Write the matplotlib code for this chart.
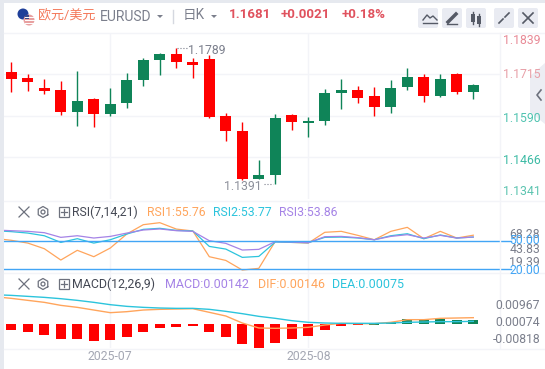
"""EURUSD daily candles with RSI and MACD panels, widget style header."""
import numpy as np
import matplotlib
matplotlib.use("Agg")
import matplotlib.pyplot as plt
from matplotlib.patches import Circle, FancyBboxPatch, Polygon, Rectangle

plt.rcParams['font.family'] = ['Roboto', 'Noto Sans CJK SC', 'DejaVu Sans']

opens = [1.1722, 1.1704, 1.1674, 1.1668, 1.1602, 1.1641, 1.1596, 1.1629, 1.1698, 1.1758,
         1.1776, 1.1752, 1.1761, 1.1590, 1.1545, 1.1401, 1.1413, 1.1593, 1.1569, 1.1575,
         1.1659, 1.1668, 1.1650, 1.1617, 1.1677, 1.1707, 1.1650, 1.1716, 1.1662]
closes = [1.1701, 1.1692, 1.1665, 1.1602, 1.1635, 1.1596, 1.1626, 1.1698, 1.1758, 1.1776,
          1.1752, 1.1743, 1.1587, 1.1545, 1.1401, 1.1413, 1.1584, 1.1572, 1.1575, 1.1659,
          1.1668, 1.1644, 1.1617, 1.1674, 1.1707, 1.1650, 1.1701, 1.1662, 1.1683]
highs = [1.1752, 1.1716, 1.1701, 1.1695, 1.1725, 1.1644, 1.1674, 1.1719, 1.1764, 1.1779,
         1.1794, 1.1764, 1.1773, 1.1599, 1.1572, 1.1458, 1.1596, 1.1596, 1.1587, 1.1671,
         1.1701, 1.1680, 1.1677, 1.1698, 1.1734, 1.1716, 1.1716, 1.1719, 1.1686]
lows = [1.1662, 1.1665, 1.1656, 1.1593, 1.1560, 1.1557, 1.1590, 1.1614, 1.1680, 1.1713,
        1.1734, 1.1704, 1.1584, 1.1515, 1.1398, 1.1401, 1.1386, 1.1548, 1.1527, 1.1563,
        1.1611, 1.1629, 1.1590, 1.1599, 1.1668, 1.1632, 1.1647, 1.1656, 1.1641]
price_ticks = [1.1839, 1.1715, 1.1590, 1.1466, 1.1341]

# first value of each line is the bar just off the left edge
rsi1 = [52.4, 50.4, 47.5, 41.6, 29.7, 39.9, 33.2, 42.3, 57.0, 66.8, 68.9, 62.2, 60.2, 33.2, 29.3,
        19.2, 21.0, 49.3, 48.2, 47.5, 58.8, 59.8, 55.6, 51.0, 59.8, 64.0, 52.1, 59.8, 52.8, 55.76]
rsi2 = [60.5, 59.5, 58.0, 55.2, 48.2, 52.1, 47.5, 51.0, 57.0, 61.9, 63.0, 60.8, 60.2, 44.0, 41.2,
        32.5, 33.5, 48.6, 48.2, 47.9, 53.5, 53.8, 52.8, 51.0, 55.2, 57.3, 52.1, 56.0, 52.8, 53.77]
rsi3 = [61.2, 60.5, 59.8, 58.4, 53.5, 55.2, 52.8, 54.5, 58.0, 61.2, 62.3, 60.5, 59.8, 50.0, 47.2,
        40.2, 40.9, 49.0, 48.6, 47.9, 54.2, 54.5, 53.2, 51.0, 54.5, 56.3, 52.8, 55.6, 52.8, 53.86]

macd_bars = [-0.00301, -0.00425, -0.00584, -0.00797, -0.00797, -0.00903, -0.00850, -0.00690,
             -0.00425, -0.00212, -0.00159, -0.00106, -0.00425, -0.00690, -0.01062, -0.01257,
             -0.01009, -0.00797, -0.00637, -0.00319, -0.00106, -0.00053, -0.00053, 0.00106,
             0.00266, 0.00212, 0.00266, 0.00212, 0.00212]
dif = [0.01451, 0.01363, 0.01257, 0.01151, 0.00991, 0.00885, 0.00743, 0.00602, 0.00655, 0.00743,
       0.00779, 0.00797, 0.00814, 0.00620, 0.00425, 0.00053, -0.00212, -0.00230, -0.00212, -0.00177,
       -0.00053, 0.00035, 0.00018, 0.00018, 0.00089, 0.00230, 0.00230, 0.00301, 0.00319, 0.00336]
dea = [0.01558, 0.01522, 0.01469, 0.01416, 0.01345, 0.01257, 0.01151, 0.01027, 0.00938, 0.00885,
       0.00850, 0.00832, 0.00832, 0.00779, 0.00673, 0.00549, 0.00407, 0.00301, 0.00177, 0.00089,
       0.00053, 0.00035, 0.00035, 0.00035, 0.00053, 0.00089, 0.00106, 0.00124, 0.00124, 0.00142]
macd_ticks = [0.00967, 0.00074, -0.00818]
month_labels = ["2025-07", "2025-08"]
month_index = [6, 18]

W, H = 545, 369
RED = "#ff0000"
GREEN = "#0f8458"
GRID = "#f3f4f8"
GRAY = "#7b7f8c"
ORANGE = "#ffa55c"
CYAN = "#2cc4dc"
PURPLE = "#a583e6"
BLUE = "#42a5f5"
HEAD_RED = "#e0525e"


def panel(top, bottom, left=4, right=499.5):
    ax = fig.add_axes([left / W, 1 - bottom / H, (right - left) / W, (bottom - top) / H])
    ax.set_xlim((left - 11.3) / 16.5, (right - 11.3) / 16.5)
    for s in ax.spines.values():
        s.set_visible(False)
    ax.set_xticks([])
    ax.set_yticks([])
    ax.patch.set_alpha(0)
    for m in month_index:
        ax.axvline(m, color=GRID, lw=1, zorder=0)
    return ax


fig = plt.figure(figsize=(W / 100, H / 100), dpi=100, facecolor="white")
idx = np.arange(len(opens))
line_x = np.arange(-1, len(opens))

# ---- candles ----
ax = panel(33, 199)
ax.set_ylim(price_ticks[-1], price_ticks[0])
for p in price_ticks[1:-1]:
    ax.axhline(p, color=GRID, lw=1, zorder=0)
o, c = np.array(opens), np.array(closes)
cols = [GREEN if b > a else RED for a, b in zip(o, c)]
ax.vlines(idx, lows, highs, colors=cols, lw=1, zorder=2)
ax.bar(idx, np.abs(c - o), bottom=np.minimum(o, c), width=0.66, color=cols, zorder=3)

# ---- RSI ----
ax2 = panel(202, 273)
ax2.set_ylim(16.1, 90.6)
ax2.plot(line_x, rsi1, color=ORANGE, lw=0.9)
ax2.plot(line_x, rsi2, color=CYAN, lw=0.9)
ax2.plot(line_x, rsi3, color=PURPLE, lw=0.9)
for lev in (50, 20):
    ax2.axhline(lev, xmax=1.023, color=BLUE, lw=1, clip_on=False)

# ---- MACD ----
ax3 = panel(274, 348)
ax3.set_ylim(-0.01276, 0.02658)
bar_cols = [RED if i < 22 else GREEN for i in idx]
ax3.bar(idx, macd_bars, width=0.6, color=bar_cols, zorder=2)
ax3.plot(line_x, dif, color=ORANGE, lw=1, zorder=3)
ax3.plot(line_x, dea, color=CYAN, lw=1, zorder=3)

# ---- chrome, drawn in pixel coordinates ----
top = fig.add_axes([0, 0, 1, 1], zorder=10)
top.set_xlim(0, W)
top.set_ylim(H, 0)
top.axis("off")
top.patch.set_alpha(0)


def txt(x, y, s, color=GRAY, size=8.6, ha="left", **kw):
    return top.text(x, y, s, color=color, fontsize=size, ha=ha, va="center", **kw)


def hline(y, x0=4, x1=W, color=GRID):
    top.plot([x0, x1], [y, y], color=color, lw=1)


top.add_patch(Rectangle((0, 0), W, 3, color="#e6e9ef", lw=0))
top.add_patch(Rectangle((0, 0), 3.5, H, color="#e6e9ef", lw=0))
hline(32.5)
hline(201)
hline(273)
hline(348.5)
top.plot([499.7, 499.7], [33, 348], color=GRID, lw=1)

# flags
top.add_patch(Circle((23, 14), 5.5, color="#1f3f99", lw=0))
top.add_patch(Circle((29, 20), 5.5, color="#e8a0a0", lw=0))
for yy in (16.5, 19.5, 22.5):
    top.plot([24.5, 33.5], [yy, yy], color="white", lw=0.7)
top.add_patch(Rectangle((24.5, 15), 4, 3.5, color="#3b4a8c", lw=0))

txt(38, 15, "欧元/美元", color="#f4795b", size=9.4)
txt(100, 17, "EURUSD", color=GRAY, size=10)
top.add_patch(Polygon([[157, 15], [163, 15], [160, 18]], color=GRAY, lw=0))
top.plot([173, 173], [10, 23], color="#d5d8e0", lw=1)
txt(183, 15, "日K", color=GRAY, size=9.8)
top.add_patch(Polygon([[211, 15], [217, 15], [214, 18]], color=GRAY, lw=0))
txt(229, 15, "1.1681", color=HEAD_RED, size=9.6, fontweight="bold")
txt(281, 15, "+0.0021", color=HEAD_RED, size=9.6, fontweight="bold")
txt(342, 15, "+0.18%", color=HEAD_RED, size=9.6, fontweight="bold")

# toolbar buttons
for bx in (418, 442, 466, 494, 518):
    top.add_patch(FancyBboxPatch((bx + 2, 10), 16, 16, boxstyle="round,pad=2",
                                 color="#e9ebf2", lw=0))
top.plot([423, 427, 430, 433, 437], [20, 15, 18, 16, 20], color="#555a66", lw=1)
top.plot([423, 437], [23, 23], color="#555a66", lw=1)
top.plot([448, 456], [22, 14], color="#555a66", lw=2.5)
top.plot([447, 457], [24, 24], color="#555a66", lw=1)
for cx, y0, y1 in ((473, 14, 22), (479, 16, 24)):
    top.plot([cx, cx], [y0 - 2, y1 + 2], color="#555a66", lw=1)
    top.add_patch(Rectangle((cx - 2, y0), 4, y1 - y0, color="#555a66", lw=0))
top.plot([499, 503], [23, 19], color="#555a66", lw=1.2)
top.plot([505, 509], [17, 13], color="#555a66", lw=1.2)
top.plot([523, 533], [13, 23], color="#555a66", lw=1.2)
top.plot([523, 533], [23, 13], color="#555a66", lw=1.2)

# collapse tab on the right edge
top.add_patch(Polygon([[545, 63], [530, 76], [530, 112], [545, 124]], color="#ecedf3", lw=0))
top.plot([541, 537, 541], [90, 95, 100], color="#6d717d", lw=1.2)

# price axis labels
price_cols = ["#e88a96", "#e8a0a8", "#4fc3b0", "#3dbba5", "#5cc4b0"]
for p, y, col in zip(price_ticks, [40.7, 75, 118, 160, 191.7], price_cols):
    txt(541, y, f"{p:.4f}", color=col, ha="right", size=8.8)

# high / low markers
txt(188, 50, "1.1789", size=8.8)
top.plot([177, 187], [47.5, 47.5], color=GRAY, lw=0.8, ls=":")
txt(224, 186, "1.1391", color="#8d909b", size=8.8)
top.plot([264, 273], [184, 184], color=GRAY, lw=0.8, ls=":")


def icons(y):
    top.plot([19, 29], [y - 5, y + 5], color="#6d717d", lw=0.9)
    top.plot([19, 29], [y + 5, y - 5], color="#6d717d", lw=0.9)
    ang = np.deg2rad(np.arange(30, 391, 60))
    top.plot(43 + 5.5 * np.cos(ang), y + 5.5 * np.sin(ang), color="#6d717d", lw=0.9)
    top.add_patch(Circle((43, y), 2, fill=False, ec="#6d717d", lw=0.9))
    top.add_patch(Rectangle((59, y - 5), 10, 10, fill=False, ec="#6d717d", lw=0.9))
    top.plot([61, 67], [y, y], color="#6d717d", lw=0.9)
    top.plot([64, 64], [y - 3, y + 3], color="#6d717d", lw=0.9)


icons(212)
txt(72, 212, "RSI(7,14,21)", color="#444854", size=8.8)
txt(147, 212, "RSI1:55.76", color=ORANGE, size=8.8)
txt(213, 212, "RSI2:53.77", color=CYAN, size=8.8)
txt(279, 212, "RSI3:53.86", color=PURPLE, size=8.8)

icons(284)
txt(72, 284, "MACD(12,26,9)", color="#444854", size=8.9)
txt(165, 284, "MACD:0.00142", color=PURPLE, size=9)
txt(258, 284, "DIF:0.00146", color=ORANGE, size=9)
txt(332, 284, "DEA:0.00075", color=CYAN, size=9)

# RSI axis labels overlap in the widget, the lowest one is cut by the panel edge
for s, y in (("68.28", 234), ("43.83", 249.7), ("19.39", 263)):
    txt(540, y, s, ha="right", size=8.8)
for s, y in (("50.00", 241), ("20.00", 270)):
    t = txt(540, y, s, color=BLUE, ha="right", size=8.8)
    t.set_clip_path(Rectangle((500, 202), 45, 71, transform=top.transData))

for v, y in zip(macd_ticks, [305.7, 322.7, 339.3]):
    txt(540, y, f"{v:.5f}", ha="right", size=8.8)

for m, s in zip(month_index, month_labels):
    txt(11.3 + 16.5 * m, 356, s, color="#a4a7b3", size=8.8, ha="center")

fig.savefig("out.png", dpi=100)
